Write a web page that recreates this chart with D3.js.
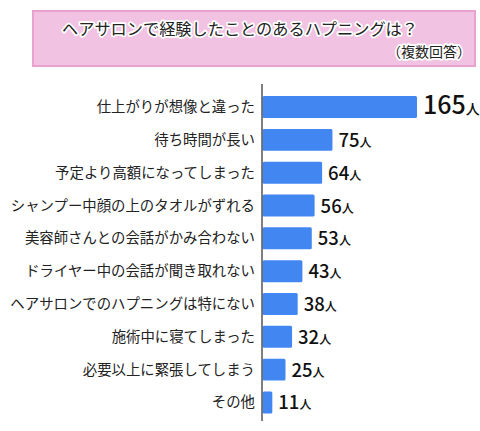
<!DOCTYPE html>
<html><head><meta charset="utf-8">
<script src="https://cdn.jsdelivr.net/npm/d3@7"></script>
<style>body{margin:0;background:#fff}svg{display:block}text{font-family:"Noto Sans CJK JP","Noto Sans",sans-serif}</style>
</head><body><svg id="c" width="480" height="431"></svg>
<script>
const categories = ["仕上がりが想像と違った","待ち時間が長い","予定より高額になってしまった","シャンプー中顔の上のタオルがずれる","美容師さんとの会話がかみ合わない","ドライヤー中の会話が聞き取れない","ヘアサロンでのハプニングは特にない","施術中に寝てしまった","必要以上に緊張してしまう","その他"];
const values = [165,75,64,56,53,43,38,32,25,11];
const unit = "人";
const title = "ヘアサロンで経験したことのあるハプニングは？";
const subtitle = "（複数回答）";

const svg = d3.select("#c");
svg.append("rect").attr("x",33).attr("y",11).attr("width",442).attr("height",55)
  .attr("fill","#f2c2e3").attr("stroke","#e9a2cf").attr("stroke-width",2);
svg.append("text").attr("x",240).attr("y",35).attr("text-anchor","middle")
  .attr("font-size",16.2).attr("fill","#222").attr("stroke","#fff").attr("stroke-width",3.5)
  .attr("paint-order","stroke").attr("stroke-linejoin","round").text(title);
svg.append("text").attr("x",471).attr("y",57).attr("text-anchor","end")
  .attr("font-size",14).attr("fill","#222").attr("stroke","#fff").attr("stroke-width",3.5)
  .attr("paint-order","stroke").attr("stroke-linejoin","round").text(subtitle);

const x0 = 262;
const x = d3.scaleLinear().domain([0,165]).range([x0, x0+155]);
const y = d3.scaleBand().domain(categories).range([89.5, 420]).paddingInner(0.33).paddingOuter(0.2);

const g = svg.append("g");
g.selectAll("rect.bar").data(values).join("rect").attr("class","bar")
  .attr("x", x0+0.5).attr("y",(d,i)=>y(categories[i]))
  .attr("width", d=>x(d)-x0-0.5).attr("height", y.bandwidth())
  .attr("rx",1.5).attr("fill","#4286f2");

svg.append("line").attr("x1",x0).attr("x2",x0).attr("y1",84).attr("y2",421)
  .attr("stroke","#555").attr("stroke-width",1.5);

g.selectAll("text.cat").data(categories).join("text").attr("class","cat")
  .attr("x",255).attr("y",d=>y(d)+y.bandwidth()/2+5).attr("text-anchor","end")
  .attr("font-size",14.4).attr("fill","#222").text(d=>d);

const vl = g.selectAll("text.val").data(values).join("text").attr("class","val")
  .attr("x",d=>x(d)+6).attr("y",(d,i)=>y(categories[i])+y.bandwidth()/2+7)
  .attr("fill","#111").attr("font-weight",500);
vl.append("tspan").attr("font-size",(d,i)=>i===0?25:18.5).text(d=>d);
vl.append("tspan").attr("font-size",(d,i)=>i===0?14:12).text(unit);
</script></body></html>
